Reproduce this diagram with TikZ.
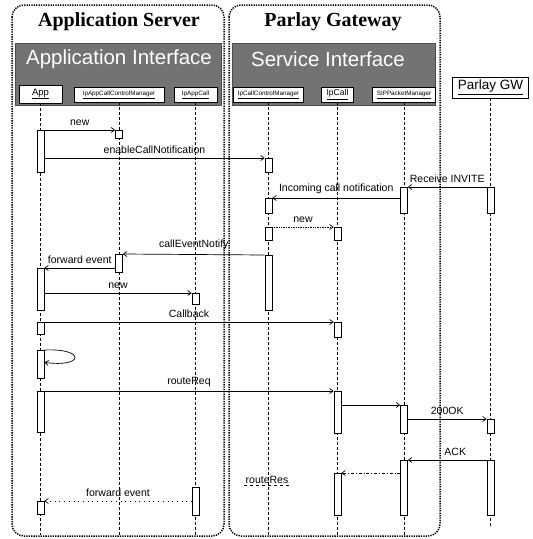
\documentclass[tikz,border=0pt]{standalone}
\usepackage{fontspec}
\setmainfont{Liberation Sans}
\newfontfamily\serifbf{Liberation Serif}
\usetikzlibrary{arrows.meta}

\begin{document}
\begin{tikzpicture}[x=1pt, y=-1pt,
  frame/.style={line width=1.5pt, dash pattern=on 1.3pt off 1.1pt, rounded corners=12pt},
  title/.style={font=\serifbf\bfseries\fontsize{20}{24}\selectfont},
  bar/.style={fill=black!55, draw=black!70, inner sep=0pt},
  bartext/.style={text=white, font=\fontsize{20.5}{24}\selectfont},
  head/.style={draw, fill=white, minimum height=15pt, inner sep=0pt, font=\fontsize{6.3}{7}\selectfont},
  life/.style={line width=0.6pt, dash pattern=on 3pt off 2pt},
  act/.style={draw, fill=white, line width=0.6pt, minimum width=7pt, inner sep=0pt, anchor=north},
  msg/.style={-{Straight Barb[length=3.5pt, width=5pt]}, line width=0.7pt},
  lbl/.style={font=\fontsize{10.5}{12}\selectfont, inner sep=1pt, above=3pt}
]
\useasboundingbox[fill=white] (0,0) rectangle (533,539);

% the two sides
\draw[frame] (12,5) rectangle (224,536);
\draw[frame] (229,5) rectangle (440,536);
\node[title] (astitle) at (119,22) {Application Server};
\node[title] (gwtitle) at (333,22) {Parlay Gateway};

\node[bar, minimum width=206pt, minimum height=62pt] (aibar) at (118,74) {};
\node[bar, minimum width=203pt, minimum height=62pt] (sibar) at (333.5,74) {};
\node[bartext] (aitext) at (119,59) {Application Interface};
\node[bartext] (sitext) at (328,59) {Service Interface};

% objects
\node[head, minimum width=43pt, minimum height=18pt, font=\fontsize{9.5}{11}\selectfont] (app) at (40.5,94) {\underline{App}};
\node[head, minimum width=90pt] (acm) at (119,94.5) {\underline{IpAppCallControlManager}};
\node[head, minimum width=43pt] (acall) at (195.5,94.5) {\underline{IpAppCall}};
\node[head, minimum width=70pt] (ccm) at (268.5,94.5) {\underline{IpCallControlManager}};
\node[head, minimum width=32pt, font=\fontsize{8.6}{10}\selectfont] (call) at (337.5,94.5) {\underline{IpCall}};
\node[head, minimum width=63pt] (sip) at (404,94.5) {\underline{SIPPacketManager}};
\node[head, minimum width=76pt, minimum height=21pt, font=\fontsize{13.5}{15}\selectfont] (gw) at (490.5,87.5) {\underline{Parlay GW}};

\coordinate (bottom) at (0,535);
\foreach \o in {app,acm,acall,ccm,call,sip}
  \draw[life] (\o) -- (\o |- bottom);
\draw[life] (gw) -- (gw |- 0,528);

% activations
\node[act, minimum height=42pt] (a1) at (app |- 0,130) {};
\node[act, minimum height=42pt] (a2) at (app |- 0,268) {};
\node[act, minimum height=12pt] (a3) at (app |- 0,322) {};
\node[act, minimum height=28pt] (a4) at (app |- 0,350) {};
\node[act, minimum height=41pt] (a5) at (app |- 0,391) {};
\node[act, minimum height=13pt] (a6) at (app |- 0,501) {};
\node[act, minimum height=8pt] (b1) at (acm |- 0,130) {};
\node[act, minimum height=18pt] (b2) at (acm |- 0,254) {};
\node[act, minimum height=11pt] (c1) at (acall |- 0,293) {};
\node[act, minimum height=28pt] (c2) at (acall |- 0,487) {};
\node[act, minimum height=14pt] (d1) at (ccm |- 0,158) {};
\node[act, minimum height=15pt] (d2) at (ccm |- 0,198) {};
\node[act, minimum height=13pt] (d3) at (ccm |- 0,227) {};
\node[act, minimum height=55pt] (d4) at (ccm |- 0,255) {};
\node[act, minimum height=13pt] (e1) at (call |- 0,227) {};
\node[act, minimum height=15pt] (e2) at (call |- 0,322) {};
\node[act, minimum height=42pt] (e3) at (call |- 0,391) {};
\node[act, minimum height=42pt] (e4) at (call |- 0,473) {};
\node[act, minimum height=26pt] (f1) at (sip |- 0,187) {};
\node[act, minimum height=28pt] (f2) at (sip |- 0,405) {};
\node[act, minimum height=55pt] (f3) at (sip |- 0,460) {};
\node[act, minimum height=26pt] (g1) at (gw |- 0,187) {};
\node[act, minimum height=14pt] (g2) at (gw |- 0,419) {};
\node[act, minimum height=55pt] (g3) at (gw |- 0,460) {};

% messages
\draw[msg] (a1.east |- b1.north) -- (b1.north west) node[lbl, midway] {new};
\draw[msg] (a1.east |- d1.north) -- (d1.north west) node[lbl, midway] {enableCallNotification};
\draw[msg] (g1.north west) -- (f1.north east) node[lbl, midway] {Receive INVITE};
\draw[msg] (f1.west |- d2.north) -- (d2.north east) node[lbl, midway] {Incoming call notification};
\draw[msg, densely dotted] (d3.north east) -- (e1.north west) node[lbl, midway] {new};
\draw[msg] (d4.north west) -- (b2.north east) node[lbl, midway] {callEventNotify};
\draw[msg] (b2.west |- a2.north) -- (a2.north east) node[lbl, midway] {forward event};
\draw[msg] (a2.east |- c1.north) -- (c1.north west) node[lbl, midway] {new};
\draw[msg] (a3.north east) -- (e2.north west) node[lbl, midway] {Callback};
\draw[msg] (a4.north east) .. controls (86,348) and (84,368) .. ([yshift=2pt]a4.east);
\draw[msg] (a5.north east) -- (e3.north west) node[lbl, midway] {routeReq};
\draw[msg] (e3.east |- f2.north) -- (f2.north west);
\draw[msg] (f2.east |- g2.north) -- (g2.north west) node[lbl, midway] {200OK};
\draw[msg] (g3.north west) -- (f3.north east) node[lbl, midway, xshift=8pt] {ACK};
\draw[msg, dash dot] (f3.west |- e4.north) -- (e4.north east);
\node[font=\fontsize{10.5}{12}\selectfont, inner sep=1pt] (rres) at (267,480) {routeRes};
\draw[dashed, line width=0.6pt] (rres.south west) -- (rres.south east);
\draw[msg, loosely dotted] (c2.west |- a6.north) -- (a6.north east) node[lbl, midway] {forward event};
\end{tikzpicture}
\end{document}
